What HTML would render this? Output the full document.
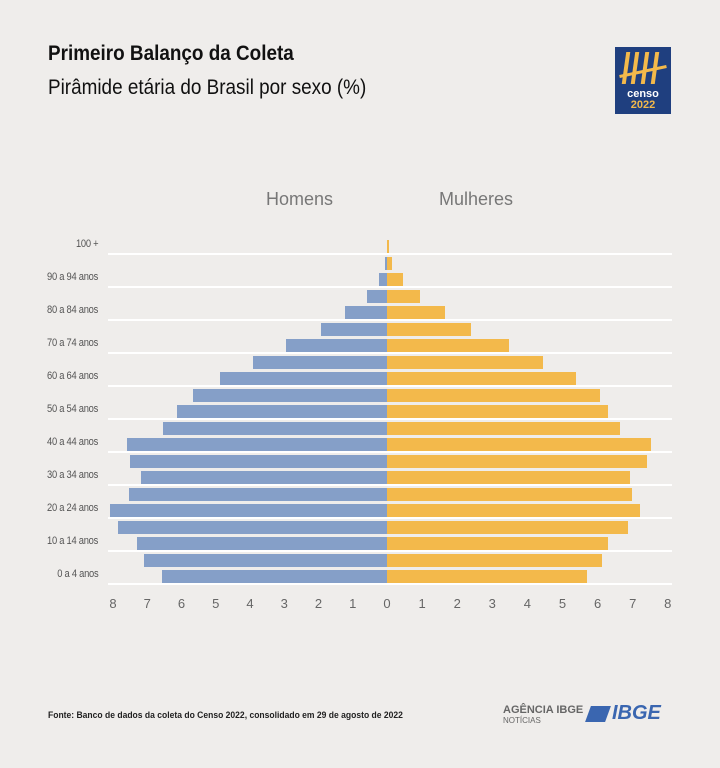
<!DOCTYPE html>
<html><head><meta charset="utf-8"><style>
body{margin:0;width:720px;height:768px;background:#efedeb;font-family:"Liberation Sans",sans-serif;position:relative;overflow:hidden}
.a{position:absolute}
.m{position:absolute;background:#859fc8;height:13px}
.w{position:absolute;background:#f3b94b;height:13px;left:387px}
.l{position:absolute;height:2px;background:#fff;left:108px;width:564px}
.lab{position:absolute;right:622px;font-size:11px;color:#555;letter-spacing:-0.3px;transform:scaleX(0.85);transform-origin:right;white-space:nowrap}
.t{position:absolute;top:596px;font-size:13px;color:#666;width:20px;text-align:center}
.s{position:absolute;width:4px;height:32px;background:#f3b94b;top:52px;transform:skewX(-8deg)}
</style></head><body>
<div class="a" style="left:48px;top:42px;font-size:21px;font-weight:bold;color:#111;transform:scaleX(0.9);transform-origin:left">Primeiro Balanço da Coleta</div>
<div class="a" style="left:48px;top:76px;font-size:21px;color:#111;transform:scaleX(0.9);transform-origin:left">Pirâmide etária do Brasil por sexo (%)</div>
<div class="a" style="left:615px;top:47px;width:56px;height:67px;background:#1f3f7f"></div>
<div class="s" style="left:624px"></div><div class="s" style="left:633px"></div><div class="s" style="left:643px"></div><div class="s" style="left:653px"></div>
<div class="a" style="left:619px;top:70px;width:48px;height:3px;background:#f3b94b;transform:rotate(-12deg)"></div>
<div class="a" style="left:615px;top:88px;width:56px;text-align:center;color:#fff;font-size:11px;font-weight:bold">censo</div>
<div class="a" style="left:615px;top:99px;width:56px;text-align:center;color:#f3b94b;font-size:11px;font-weight:bold">2022</div>
<div class="a" style="left:266px;top:189px;font-size:18px;color:#777">Homens</div>
<div class="a" style="left:439px;top:189px;font-size:18px;color:#777">Mulheres</div>
<div id="c"></div>
<div class="a" style="left:48px;top:710px;font-size:9.5px;font-weight:bold;color:#222;transform:scaleX(0.9);transform-origin:left;white-space:nowrap">Fonte: Banco de dados da coleta do Censo 2022, consolidado em 29 de agosto de 2022</div>
<div class="a" style="left:503px;top:705px;font-size:11px;font-weight:bold;color:#666;line-height:10px">AGÊNCIA IBGE<br><span style="font-size:8px;font-weight:normal">NOTÍCIAS</span></div>
<div class="a" style="left:588px;top:706px;width:20px;height:16px;background:#3a66b0;transform:skewX(-20deg)"></div>
<div class="a" style="left:612px;top:702px;font-size:20px;font-weight:bold;font-style:italic;color:#3a66b0">IBGE</div>
<script>
var m=[387,385,379,367,345,321,286,253,220,193,177,163,127,130,141,129,110,118,137,144,162];
var w=[389,392,403,420,445,471,509,543,576,600,608,620,651,647,630,632,640,628,608,602,587];
var labs=["100 +","90 a 94 anos","80 a 84 anos","70 a 74 anos","60 a 64 anos","50 a 54 anos","40 a 44 anos","30 a 34 anos","20 a 24 anos","10 a 14 anos","0 a 4 anos"];
var h="";
for(var i=0;i<21;i++){var t=240+i*16.5;
h+='<div class="m" style="top:'+t+'px;left:'+m[i]+'px;width:'+(387-m[i])+'px"></div>';
h+='<div class="w" style="top:'+t+'px;width:'+(w[i]-387)+'px"></div>';
if(i%2==0){h+='<div class="l" style="top:'+(t+13)+'px"></div>';
h+='<div class="lab" style="top:'+(t-2)+'px">'+labs[i/2]+'</div>';}}
for(var k=0;k<=8;k++){h+='<div class="t" style="left:'+(387-k*34.25-10)+'px">'+k+'</div>';
if(k>0)h+='<div class="t" style="left:'+(387+k*35.1-10)+'px">'+k+'</div>';}
document.getElementById("c").innerHTML=h;
</script>
</body></html>
